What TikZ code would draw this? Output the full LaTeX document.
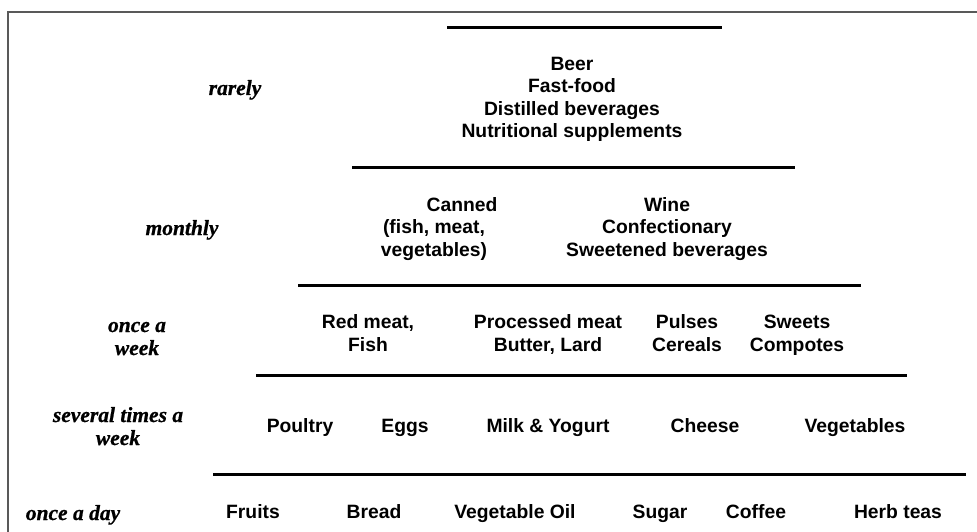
\documentclass[tikz,border=0pt]{standalone}
\usepackage{fontspec}
\setmainfont{Liberation Sans}
\newfontfamily\labfont[BoldItalicFeatures={FakeBold=0.8}]{Liberation Serif}
\begin{document}
\begin{tikzpicture}[x=1pt,y=-1pt,
  item/.style={font=\fontsize{19.3}{22.5}\selectfont\bfseries, align=center, anchor=base, inner sep=0pt},
  freq/.style={font=\labfont\fontsize{21.5}{23}\selectfont\bfseries\itshape, align=center, anchor=base, inner sep=0pt},
  bar/.style={line width=3pt},
  frameline/.style={draw=black!65, line width=1.3pt}]
\fill[white] (0,0) rectangle (977,532);
\useasboundingbox (0,0) rectangle (977,532);
\draw[frameline] (8,532) -- (8,12) -- (977,12);
% bars
\draw[bar] (447,28) -- (722,28);
\draw[bar] (352,167) -- (795,167);
\draw[bar] (298,285) -- (861,285);
\draw[bar] (256,375) -- (907,375);
\draw[bar] (213,474) -- (966,474);
% frequency labels (base = baseline of last line)
\node[freq] (rarely) at (235,95) {rarely};
\node[freq] (monthly) at (182,235) {monthly};
\node[freq] (week1) at (137,355) {once a\\week};
\node[freq] (week2) at (118,445) {several times a\\week};
\node[freq] (day) at (73,520) {once a day};
% rarely
\node[item] (rare) at (572,138) {Beer\\Fast-food\\Distilled beverages\\Nutritional supplements};
% monthly
\node[item] (canned) at (434,256) {\hspace*{56pt}Canned\\(fish, meat,\\vegetables)};
\node[item] (wine) at (667,256) {Wine\\Confectionary\\Sweetened beverages};
% once a week
\node[item] (redmeat) at (368,351) {Red meat,\\Fish};
\node[item] (processed) at (548,351) {Processed meat\\Butter, Lard};
\node[item] (pulses) at (687,351) {Pulses\\Cereals};
\node[item] (sweets) at (797,351) {Sweets\\Compotes};
% several times a week
\node[item] (poultry) at (300,432) {Poultry};
\node[item] (eggs) at (405,432) {Eggs};
\node[item] (milk) at (548,432) {Milk \& Yogurt};
\node[item] (cheese) at (705,432) {Cheese};
\node[item] (veg) at (855,432) {Vegetables};
% once a day
\node[item] (fruits) at (253,518) {Fruits};
\node[item] (bread) at (374,518) {Bread};
\node[item] (oil) at (515,518) {Vegetable Oil};
\node[item] (sugar) at (660,518) {Sugar};
\node[item] (coffee) at (756,518) {Coffee};
\node[item] (herb) at (898,518) {Herb teas};
\end{tikzpicture}
\end{document}
